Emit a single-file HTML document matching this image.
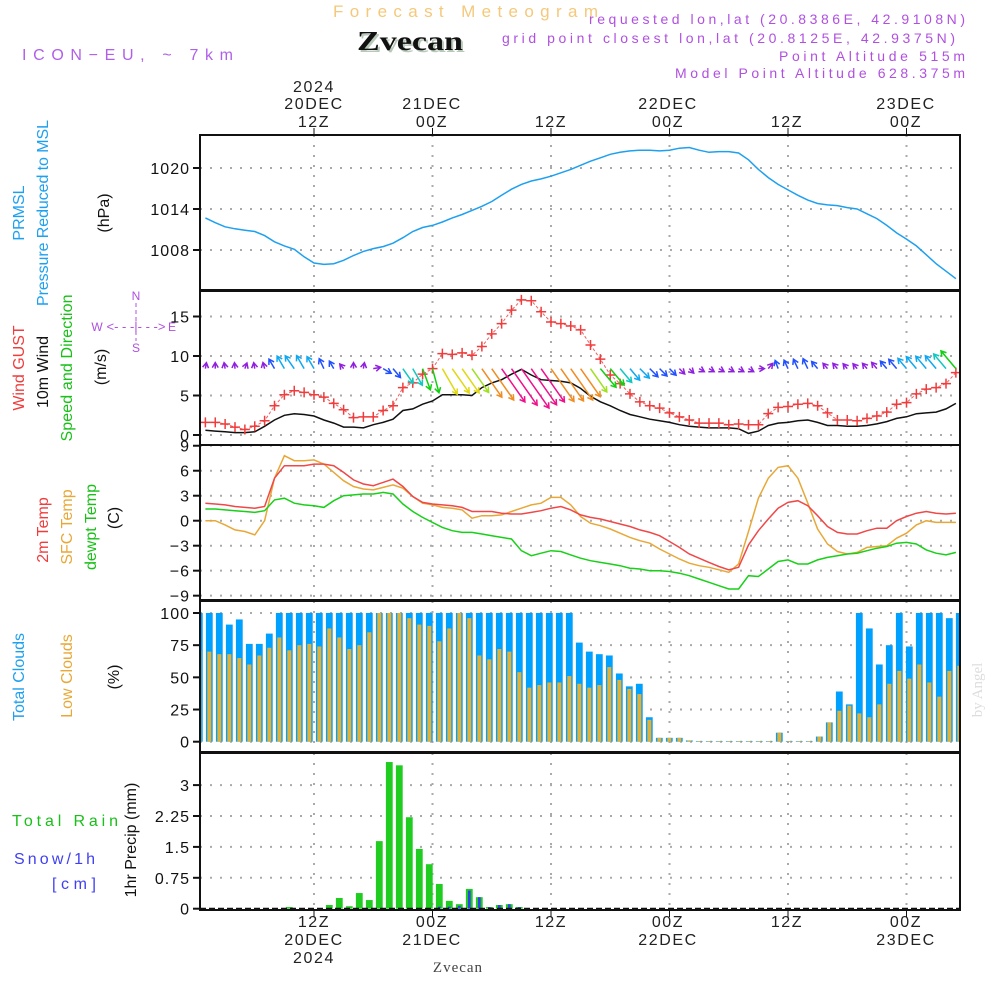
<!DOCTYPE html>
<html><head><meta charset="utf-8"><style>
html,body{margin:0;padding:0;background:#fff;}
svg{display:block;font-family:"Liberation Sans",sans-serif;}
</style></head><body>
<svg id="chart" width="1000" height="1000" viewBox="0 0 1000 1000" xmlns="http://www.w3.org/2000/svg">
<g id="static">
<text x="333" y="17" font-size="17" fill="#f5c87a" textLength="265" lengthAdjust="spacing">Forecast Meteogram</text>
<text x="357" y="50" font-size="27" font-weight="bold" font-family="Liberation Serif,serif" fill="#b9c9b9" textLength="106" lengthAdjust="spacingAndGlyphs" transform="translate(2,2)">Zvecan</text>
<text x="357" y="50" font-size="27" font-weight="bold" font-family="Liberation Serif,serif" fill="#111" textLength="106" lengthAdjust="spacingAndGlyphs">Zvecan</text>
<text x="22" y="60" font-size="16" fill="#b060e8" textLength="211" lengthAdjust="spacing">ICON−EU, ~ 7km</text>
<g font-size="14" fill="#b050e0" lengthAdjust="spacing">
<text x="589" y="24" textLength="376" lengthAdjust="spacing">requested lon,lat (20.8386E, 42.9108N)</text>
<text x="502" y="43" textLength="453" lengthAdjust="spacing">grid point closest lon,lat (20.8125E, 42.9375N)</text>
<text x="779" y="61" textLength="186" lengthAdjust="spacing">Point Altitude 515m</text>
<text x="675" y="78" textLength="290" lengthAdjust="spacing">Model Point Altitude 628.375m</text>
</g>
<g font-size="16" fill="#222" text-anchor="middle" letter-spacing="1.6">
<text x="314" y="92">2024</text><text x="314" y="109">20DEC</text><text x="314" y="127">12Z</text>
<text x="432" y="109">21DEC</text><text x="432" y="127">00Z</text>
<text x="551" y="127">12Z</text>
<text x="668" y="109">22DEC</text><text x="668" y="127">00Z</text>
<text x="787" y="127">12Z</text>
<text x="906" y="109">23DEC</text><text x="906" y="127">00Z</text>
</g>
<g font-size="16" fill="#222" text-anchor="middle" letter-spacing="1.6">
<text x="314" y="927">12Z</text><text x="314" y="945">20DEC</text><text x="314" y="963">2024</text>
<text x="432" y="927">00Z</text><text x="432" y="945">21DEC</text>
<text x="551" y="927">12Z</text>
<text x="668" y="927">00Z</text><text x="668" y="945">22DEC</text>
<text x="787" y="927">12Z</text>
<text x="906" y="927">00Z</text><text x="906" y="945">23DEC</text>
</g>
<text x="458" y="972" text-anchor="middle" font-size="15" font-family="Liberation Serif,serif" fill="#444" letter-spacing="1">Zvecan</text>
<text transform="translate(982,690) rotate(-90)" text-anchor="middle" font-size="15" font-family="Liberation Serif,serif" fill="#ddd">by Angel</text>
<g font-size="16">
<text transform="translate(24,213) rotate(-90)" text-anchor="middle" fill="#1ea0f0">PRMSL</text>
<text transform="translate(48,213) rotate(-90)" text-anchor="middle" fill="#1ea0f0" textLength="186">Pressure Reduced to MSL</text>
<text transform="translate(109,213) rotate(-90)" text-anchor="middle" fill="#111">(hPa)</text>
<text transform="translate(24,368) rotate(-90)" text-anchor="middle" fill="#f03c3c">Wind GUST</text>
<text transform="translate(48,372) rotate(-90)" text-anchor="middle" fill="#111">10m Wind</text>
<text transform="translate(72,368) rotate(-90)" text-anchor="middle" fill="#18c018" textLength="147">Speed and Direction</text>
<text transform="translate(106,367) rotate(-90)" text-anchor="middle" fill="#111">(m/s)</text>
<text transform="translate(48,530) rotate(-90)" text-anchor="middle" fill="#f03c3c">2m Temp</text>
<text transform="translate(72,527) rotate(-90)" text-anchor="middle" fill="#e8a838">SFC Temp</text>
<text transform="translate(96,527) rotate(-90)" text-anchor="middle" fill="#18c018">dewpt Temp</text>
<text transform="translate(119,518) rotate(-90)" text-anchor="middle" fill="#111">(C)</text>
<text transform="translate(24,677) rotate(-90)" text-anchor="middle" fill="#1ea0f0">Total Clouds</text>
<text transform="translate(72,676) rotate(-90)" text-anchor="middle" fill="#e8a838">Low Clouds</text>
<text transform="translate(119,677) rotate(-90)" text-anchor="middle" fill="#111">(%)</text>
<text x="12" y="826" fill="#18c018" textLength="106" lengthAdjust="spacing">Total  Rain</text>
<text x="14" y="864" fill="#4040f0" textLength="81" lengthAdjust="spacing">Snow/1h</text>
<text x="52" y="889" fill="#4040f0" textLength="44" lengthAdjust="spacing">[cm]</text>
<text transform="translate(136,840) rotate(-90)" text-anchor="middle" fill="#111">1hr Precip (mm)</text>
</g>
<g fill="#b050e0" font-size="12" text-anchor="middle">
<text x="136" y="300">N</text><text x="136" y="352">S</text><text x="97" y="331">W</text><text x="172" y="331">E</text>
<text x="136" y="331" font-size="13">&lt;- - -|- - -&gt;</text>
<line x1="136" y1="303" x2="136" y2="341" stroke="#b050e0" stroke-dasharray="4,3"/>
</g>
</g>
<g id="dyn"></g>
</svg>
<script>
const pressure=[1012.7,1012.0,1011.4,1011.1,1010.9,1010.7,1010.1,1009.2,1008.6,1008.1,1007.0,1006.1,1005.9,1006.0,1006.5,1007.2,1007.8,1008.2,1008.5,1009.0,1009.8,1010.7,1011.3,1011.6,1012.1,1012.7,1013.2,1013.8,1014.4,1015.1,1016.0,1016.9,1017.6,1018.1,1018.4,1018.8,1019.3,1019.8,1020.4,1021.0,1021.5,1022.0,1022.3,1022.5,1022.6,1022.6,1022.5,1022.6,1022.9,1023.0,1022.6,1022.3,1022.4,1022.4,1022.2,1021.2,1019.8,1018.6,1017.6,1016.8,1016.0,1015.3,1014.8,1014.6,1014.5,1014.2,1014.0,1013.3,1012.6,1011.6,1010.5,1009.6,1008.6,1007.3,1006.0,1004.9,1003.8];
const gust=[1.6,1.6,1.4,1.0,0.7,1.1,1.8,3.7,5.1,5.6,5.4,5.1,4.8,4.0,3.2,2.2,2.3,2.3,3.1,3.7,6.0,6.6,7.7,8.4,10.3,10.2,10.4,10.1,11.2,12.8,14.1,15.8,17.1,17.0,15.6,14.3,14.1,13.8,13.3,11.4,9.6,7.6,6.5,5.2,4.2,3.7,3.4,2.8,2.3,1.9,1.5,1.5,1.5,1.3,1.4,1.3,1.3,2.7,3.5,3.6,3.9,4.0,3.7,2.8,1.9,1.9,1.8,2.1,2.4,2.9,3.9,4.1,5.2,5.8,6.0,6.5,7.9];
const wind=[0.6,0.5,0.4,0.3,0.3,0.4,1.1,1.9,2.5,2.7,2.6,2.4,1.9,1.5,1.0,1.0,0.9,1.3,1.6,2.0,3.1,3.3,3.9,4.3,5.1,5.1,5.1,5.0,6.0,6.6,7.0,7.7,8.3,7.6,7.0,6.9,6.8,6.6,5.9,4.9,4.2,3.7,3.1,2.6,2.3,2.0,1.8,1.6,1.3,1.1,1.0,0.9,0.9,0.9,0.8,0.2,0.5,1.2,1.5,1.6,1.8,1.9,1.6,1.2,1.2,1.1,1.1,1.2,1.4,1.7,2.1,2.3,2.7,2.8,2.9,3.3,4.0];
const windDir=[190,180,170,175,200,170,165,150,150,145,150,150,155,150,140,180,190,260,300,320,325,330,340,345,330,325,325,325,325,325,325,325,325,325,325,325,325,325,325,325,320,320,320,320,315,315,315,315,315,315,300,300,300,300,300,300,270,220,160,155,155,155,140,140,140,140,140,140,140,140,140,140,140,140,140,140,140];
const temp2m=[2.1,2.0,1.9,1.7,1.6,1.5,1.7,5.1,6.6,6.6,6.6,6.8,6.8,6.6,5.8,4.9,4.4,4.2,4.6,5.0,4.1,2.9,2.2,2.0,1.9,1.8,1.6,1.1,1.1,1.1,0.9,0.8,0.8,1.0,1.2,1.5,1.7,1.3,0.7,0.4,0.2,-0.1,-0.4,-0.7,-1.1,-1.4,-1.8,-2.5,-3.2,-4.0,-4.5,-5.0,-5.5,-5.9,-5.6,-2.9,-1.2,0.2,1.5,2.2,2.4,1.8,0.6,-0.7,-1.4,-1.6,-1.6,-1.2,-0.9,-0.9,0.0,0.5,0.9,1.1,0.9,0.8,0.9];
const tempSfc=[0.0,0.0,-0.5,-1.1,-1.3,-1.7,0.0,5.1,7.8,7.2,7.2,7.3,6.8,5.8,4.8,4.1,3.8,3.7,4.0,4.3,3.9,2.9,2.1,1.9,1.6,1.5,1.3,0.3,0.6,0.6,0.7,1.1,1.5,1.9,2.1,2.8,2.8,1.9,0.5,-0.3,-0.6,-1.0,-1.5,-2.0,-2.4,-2.7,-3.4,-4.0,-4.6,-5.1,-5.4,-5.6,-5.9,-6.2,-5.2,-1.3,2.7,5.1,6.4,6.6,5.1,2.1,-1.0,-2.8,-3.7,-4.0,-3.8,-3.2,-3.1,-3.0,-2.1,-1.5,-0.5,0.0,-0.2,-0.2,-0.2];
const dewpt=[1.4,1.4,1.3,1.2,1.1,1.0,1.2,2.5,2.7,2.1,1.9,1.8,1.6,2.4,3.0,3.1,3.2,3.2,3.4,3.2,2.0,1.1,0.4,-0.2,-0.8,-1.2,-1.4,-1.4,-1.6,-1.8,-2.0,-2.2,-3.6,-4.2,-3.9,-3.6,-3.7,-4.1,-4.5,-4.8,-5.0,-5.2,-5.4,-5.7,-5.8,-6.0,-6.0,-6.1,-6.3,-6.6,-7.0,-7.4,-7.8,-8.2,-8.2,-6.6,-6.7,-5.8,-4.9,-4.7,-5.2,-5.2,-4.7,-4.4,-4.2,-4.0,-3.9,-3.6,-3.3,-3.1,-2.7,-2.6,-2.8,-3.5,-3.9,-4.1,-3.8];
const totalClouds=[100,100,100,91,95,76,76,84,100,100,100,100,100,100,100,100,100,100,100,100,100,100,100,100,100,100,100,100,100,100,100,100,100,100,100,100,100,100,77,70,68,67,53,43,45,19,3,3,3,1,0.5,0.5,0.5,0.5,0.5,0.5,0.5,0.5,7,0.5,0.5,0.5,4,15,39,29,100,88,60,75,100,74,100,100,100,96,100];
const lowClouds=[71,70,68,68,65,60,67,73,81,71,75,76,74,88,81,72,75,85,100,100,100,96,91,90,78,88,100,96,67,64,72,70,54,42,44,46,46,51,45,42,44,58,48,41,37,17,3,3,3,1,0.5,0.5,0.5,0.5,0.5,0.5,0.5,0.5,7,0.5,0.5,0.5,4,15,24,28,22,19,29,45,55,49,60,46,35,55,59];
const rain=[0,0,0,0,0,0,0,0,0,0.04,0,0,0,0.09,0.26,0.06,0.38,0.21,1.64,3.56,3.48,2.22,1.45,1.08,0.6,0.19,0.11,0.48,0.28,0.04,0.09,0.11,0.04,0,0,0,0,0,0,0,0,0,0,0,0,0,0,0,0,0,0,0,0,0,0,0,0,0,0,0,0,0,0,0,0,0,0,0,0,0,0,0,0,0,0,0,0];
const snow=[0,0,0,0,0,0,0,0,0,0,0,0,0,0,0,0,0,0,0,0,0,0,0,0,0.05,0.05,0.07,0.44,0.28,0.04,0.09,0.11,0.04,0,0,0,0,0,0,0,0,0,0,0,0,0,0,0,0,0,0,0,0,0,0,0,0,0,0,0,0,0,0,0,0,0,0,0,0,0,0,0,0,0,0,0,0];
const pTicks=[1020,1014,1008];
const wTicks=[0,5,10,15];
const tTicks=[9,6,3,0,-3,-6,-9];
const cTicks=[0,25,50,75,100];
const rTicks=[0,0.75,1.5,2.25,3];
const rTickLabels=["0","0.75","1.5","2.25","3"];
const gridHours=[12,24,36,48,60,72];

const X0=200,X1=960;
const xh=h=>195.5+h*9.875;
const xb=k=>199.3+k*10;
const yP=v=>168+(1020-v)*41/6;
const yW=v=>435-v*7.9;
const yT=v=>520.7-v*8.33;
const yC=v=>741.7-v*1.287;
const yR=v=>908.7-v*41.2;
const panels=[[135,290,'pressure-panel'],[291,445,'wind-panel'],[445,600,'temperature-panel'],[601,752,'clouds-panel'],[753,910,'precip-panel']];

const NS='http://www.w3.org/2000/svg';
const dyn=document.getElementById('dyn');
function mk(tag,attrs,parent){const e=document.createElementNS(NS,tag);for(const k in attrs)e.setAttribute(k,attrs[k]);(parent||dyn).appendChild(e);return e;}
const clipDefs=mk('defs',{});
panels.forEach((p,i)=>{const c=mk('clipPath',{id:'c'+i},clipDefs);mk('rect',{x:X0,y:p[0],width:X1-X0,height:p[1]-p[0]},c);});

function hgrid(vals,yf){vals.forEach(v=>{const l=mk('line',{x1:X0,x2:X1,y1:yf(v),y2:yf(v),stroke:'#aaa','stroke-width':2,'stroke-dasharray':'2,8'});

});}
hgrid(pTicks,yP);hgrid(wTicks,yW);hgrid(tTicks,yT);hgrid(cTicks,yC);hgrid(rTicks.slice(1),yR);
panels.forEach(p=>{gridHours.forEach(h=>{const l=mk('line',{x1:xh(h),x2:xh(h),y1:p[0],y2:p[1],stroke:'#aaa','stroke-width':2,'stroke-dasharray':'2,8'});

});});

function ticks(vals,yf,labels){vals.forEach((v,i)=>{mk('line',{x1:193,x2:200,y1:yf(v),y2:yf(v),stroke:'#111','stroke-width':2});
const t=mk('text',{x:190,y:yf(v)+6,'text-anchor':'end','font-size':16,fill:'#111','letter-spacing':1});t.textContent=labels?labels[i]:(v<0?'−'+(-v):String(v));

});}
ticks(pTicks,yP);ticks(wTicks,yW);ticks(tTicks,yT);ticks(cTicks,yC);ticks(rTicks,yR,rTickLabels);

function line(arr,yf,color,name,ci,w){const d=arr.map((v,i)=>(i?'L':'M')+xh(i+1).toFixed(1)+','+yf(v).toFixed(1)).join('');
const p=mk('path',{d:d,fill:'none',stroke:color,'stroke-width':w||1.5,'clip-path':'url(#c'+ci+')'});

return p;}

line(pressure,yP,'#1ea0f0','pressure-line',0,1.5);
line(wind,yW,'#111','wind-speed-line',1,1.5);
line(gust,yW,'#f06060','gust-line',1,1).setAttribute('stroke-dasharray','3,2');
gust.forEach((v,i)=>{const x=xh(i+1),y=yW(v);const m=mk('path',{d:`M${x-5},${y}H${x+5}M${x},${y-5}V${y+5}`,stroke:'#f03c3c','stroke-width':1.5,fill:'none'});

});
function spdColor(s){if(s<1.5)return'#9020e0';if(s<2.2)return'#2050ff';if(s<3.0)return'#10a8f0';if(s<3.7)return'#10c8c0';if(s<4.6)return'#10d010';if(s<5.05)return'#a0e020';if(s<5.8)return'#e0d810';if(s<6.95)return'#f08c20';return'#f0108c';}
const baseY=yW(8.4);
wind.forEach((s,i)=>{const x=xh(i+1);const a=(windDir[i]+180)*Math.PI/180;const L=Math.max(6,5.8*s);
const dx=Math.sin(a)*L,dy=-Math.cos(a)*L;const ex=x+dx,ey=baseY+dy;const ux=dx/L,uy=dy/L;const hs=5;
const hx1=ex-hs*ux+hs*0.6*uy,hy1=ey-hs*uy-hs*0.6*ux,hx2=ex-hs*ux-hs*0.6*uy,hy2=ey-hs*uy+hs*0.6*ux;
const ar=mk('path',{d:`M${x},${baseY}L${ex},${ey}M${hx1},${hy1}L${ex},${ey}L${hx2},${hy2}`,stroke:spdColor(s),'stroke-width':1.5,fill:'none','clip-path':'url(#c1)'});

});
line(tempSfc,yT,'#e8a838','sfc-temp-line',2,1.5);
line(temp2m,yT,'#f04848','temp-2m-line',2,1.5);
line(dewpt,yT,'#18d018','dewpoint-line',2,1.5);
totalClouds.forEach((v,k)=>{const b=mk('rect',{x:xb(k)-3.4,y:yC(v),width:6.8,height:yC(0)-yC(v),fill:'#00a0ff','clip-path':'url(#c3)'});

});
lowClouds.forEach((v,k)=>{const b=mk('rect',{x:xb(k)-2,y:yC(v),width:4,height:yC(0)-yC(v),fill:'#e8b030','clip-path':'url(#c3)'});

});
rain.forEach((v,k)=>{if(v<=0)return;const b=mk('rect',{x:xb(k)-3.4,y:yR(v),width:6.8,height:yR(0)-yR(v),fill:'#20cc20','clip-path':'url(#c4)'});

});
snow.forEach((v,k)=>{if(v<=0)return;const b=mk('rect',{x:xb(k)-1.3,y:yR(v),width:2.6,height:yR(0)-yR(v),fill:'#3040f0','clip-path':'url(#c4)'});

});
panels.forEach(p=>{const r=mk('rect',{x:X0,y:p[0],width:X1-X0,height:p[1]-p[0],fill:'none',stroke:'#111','stroke-width':2});

});
mk('line',{x1:X0,x2:X1,y1:yR(0),y2:yR(0),stroke:'#111','stroke-width':2,'stroke-dasharray':'6,3'});
gridHours.forEach(h=>{mk('line',{x1:xh(h),x2:xh(h),y1:128,y2:135,stroke:'#111','stroke-width':1});mk('line',{x1:xh(h),x2:xh(h),y1:910,y2:917,stroke:'#111','stroke-width':1});});
</script>
</body></html>
